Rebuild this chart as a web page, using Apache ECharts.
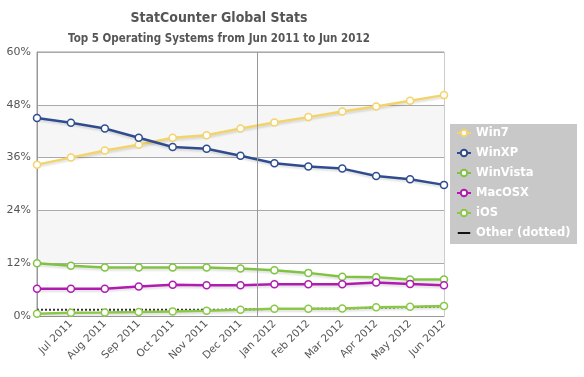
<!DOCTYPE html>
<html>
<head>
<meta charset="utf-8">
<script src="https://cdn.jsdelivr.net/npm/echarts@6/dist/echarts.min.js"></script>
<style>
  html, body { margin: 0; padding: 0; background: #fff; }
  #chart { width: 584px; height: 377px; }
</style>
</head>
<body>
<div id="chart"></div>
<script>
// months, Jun 2011 .. Jun 2012 (first one has no label)
const months = ["Jun 2011", "Jul 2011", "Aug 2011", "Sep 2011", "Oct 2011", "Nov 2011", "Dec 2011",
  "Jan 2012", "Feb 2012", "Mar 2012", "Apr 2012", "May 2012", "Jun 2012"];

const win7 = [34.4, 36.0, 37.6, 38.9, 40.5, 41.1, 42.6, 44.0, 45.2, 46.5, 47.6, 48.9, 50.2];
const winXP = [45.0, 43.9, 42.6, 40.5, 38.4, 38.0, 36.4, 34.7, 34.0, 33.5, 31.8, 31.1, 29.8];
const winVista = [12.0, 11.4, 11.0, 11.0, 11.0, 11.0, 10.8, 10.4, 9.8, 8.9, 8.8, 8.3, 8.3];
const macOSX = [6.2, 6.2, 6.2, 6.7, 7.1, 7.0, 7.0, 7.2, 7.2, 7.2, 7.6, 7.3, 7.0];
const iOS = [0.5, 0.75, 0.8, 0.9, 1.05, 1.2, 1.4, 1.65, 1.65, 1.7, 2.0, 2.1, 2.3];
const other = [1.4, 1.4, 1.4, 1.4, 1.4, 1.4, 1.5, 1.6, 1.6, 1.7, 1.9, 2.0, 2.2];

const yTicks = [0, 12, 24, 36, 48, 60];

const toPairs = (arr) => arr.map((v, i) => [i, v]);

const chart = echarts.init(document.getElementById("chart"));

const lineSeries = (name, data, color) => ({
  name: name,
  type: "line",
  data: toPairs(data),
  symbol: "circle",
  symbolSize: 7,
  showSymbol: true,
  lineStyle: {
    width: 2.5,
    color: color,
    shadowColor: "rgba(0,0,0,0.12)",
    shadowBlur: 2,
    shadowOffsetY: 2,
  },
  itemStyle: { color: "#fff", borderColor: color, borderWidth: 1.5 },
  emphasis: { disabled: true },
  z: 3,
});

const option = {
  animation: false,
  textStyle: { fontFamily: "DejaVu Sans" },
  title: [
    {
      text: "StatCounter Global Stats",
      left: 214,
      top: 6,
      textAlign: "center",
      textStyle: { fontFamily: "DejaVu Sans Condensed", fontSize: 14, fontWeight: "bold", color: "#555" },
    },
    {
      text: "Top 5 Operating Systems from Jun 2011 to Jun 2012",
      left: 214,
      top: 28,
      textAlign: "center",
      textStyle: { fontFamily: "DejaVu Sans Condensed", fontSize: 11.5, fontWeight: "bold", color: "#555" },
    },
  ],
  // legend box
  graphic: [
    { type: "rect", left: 450, top: 124, shape: { width: 127, height: 120 }, style: { fill: "#c8c8c8" }, z: 0 },
  ],
  legend: {
    orient: "vertical",
    left: 450,
    top: 122,
    padding: [5, 7, 6, 6],
    itemGap: 8,
    itemWidth: 14,
    itemHeight: 8,
    textStyle: { color: "#fff", fontWeight: "bold", fontSize: 11.5, fontFamily: "DejaVu Sans" },
    data: ["Win7", "WinXP", "WinVista", "MacOSX", "iOS",
      {
        name: "Other (dotted)",
        icon: "path://M0,0h0.01v0.01H0z M0,3.5h14v2H0z M13.99,8.99h0.01v0.01h-0.01z",
        itemStyle: { color: "#111" },
      }],
  },
  grid: { left: 37, right: 140, top: 52, bottom: 61, show: true, borderColor: "#999", borderWidth: 1 },
  xAxis: {
    type: "value",
    min: 0,
    max: 12,
    interval: 1,
    axisLine: { lineStyle: { color: "#999" } },
    axisTick: { show: false },
    splitLine: { show: false },
    axisLabel: {
      rotate: 45,
      fontSize: 10.5,
      color: "#555",
      margin: 6,
      formatter: (v) => (v === 0 ? "" : months[v]),
    },
  },
  yAxis: {
    type: "value",
    min: yTicks[0],
    max: yTicks[yTicks.length - 1],
    interval: 12,
    axisLine: { show: true, lineStyle: { color: "#999" } },
    axisTick: { show: false },
    axisLabel: { formatter: "{value}%", fontSize: 11, color: "#555", margin: 6 },
    splitLine: { lineStyle: { color: "#aaa" } },
    splitArea: { show: true, areaStyle: { color: ["#ffffff", "#f6f6f6"] } },
  },
  series: [
    Object.assign(lineSeries("Win7", win7, "#f3d36c"), {
      markLine: {
        silent: true,
        symbol: "none",
        label: { show: false },
        lineStyle: { color: "#999", type: "solid", width: 1 },
        data: [{ xAxis: 6.5 }],
      },
    }),
    lineSeries("WinXP", winXP, "#2f4d8e"),
    lineSeries("WinVista", winVista, "#80c343"),
    lineSeries("MacOSX", macOSX, "#b01bb0"),
    lineSeries("iOS", iOS, "#8bc84a"),
    {
      name: "Other (dotted)",
      type: "line",
      data: toPairs(other),
      showSymbol: false,
      lineStyle: { width: 2, color: "#333", type: [2, 2] },
      itemStyle: { color: "#111" },
      emphasis: { disabled: true },
      z: 2,
    },
  ],
};

chart.setOption(option);
</script>
</body>
</html>
